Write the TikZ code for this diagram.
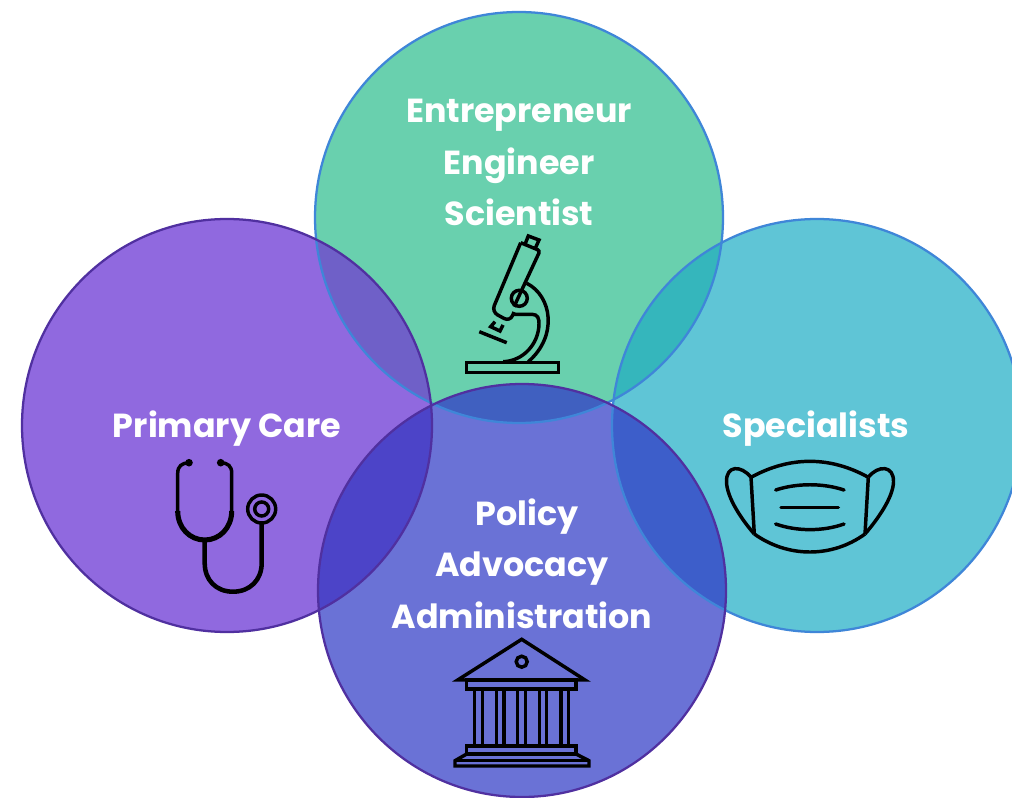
\documentclass[tikz,border=0pt]{standalone}
\usepackage{fontspec}
\setmainfont{Poppins}
\definecolor{cTop}{HTML}{69D0AE}
\definecolor{cLeft}{HTML}{9069DF}
\definecolor{cRight}{HTML}{5FC5D6}
\definecolor{cBot}{HTML}{6A72D6}
\definecolor{cTL}{HTML}{6F60C8}
\definecolor{cTR}{HTML}{35B6BC}
\definecolor{cLB}{HTML}{4C44C8}
\definecolor{cBR}{HTML}{3D5ECA}
\definecolor{cTB}{HTML}{4060C0}
\definecolor{edgeB}{HTML}{3F86D8}
\definecolor{edgeP}{HTML}{5030A0}
\tikzset{
  lab/.style={text=white,font=\bfseries\fontsize{25}{30}\selectfont,inner sep=0pt,anchor=base},
  ico/.style={draw=black,line width=2.6pt,line join=miter,fill=none},
  ringB/.style={draw=edgeB,line width=1.7pt},
  ringP/.style={draw=edgeP,line width=1.7pt},
  discT/.style={x radius=204,y radius=205.5},
  discL/.style={x radius=205,y radius=206.5},
  discR/.style={x radius=205,y radius=206.5},
  discB/.style={x radius=204,y radius=206.5},
}
\begin{document}
\begin{tikzpicture}[x=0.75pt,y=-0.75pt]
\useasboundingbox (0,0) rectangle (1012,798);
\clip (0,0) rectangle (1012,798);
\fill[white] (0,0) rectangle (1012,798);
% discs
\fill[cTop] (519,217.5) circle [discT];
\fill[cLeft] (227,425.5) circle [discL];
\fill[cRight] (817,425.5) circle [discR];
\fill[cBot] (522,590.5) circle [discB];
% overlaps
\begin{scope}\clip (519,217.5) circle [discT]; \fill[cTL] (227,425.5) circle [discL]; \end{scope}
\begin{scope}\clip (519,217.5) circle [discT]; \fill[cTR] (817,425.5) circle [discR]; \end{scope}
\begin{scope}\clip (522,590.5) circle [discB]; \fill[cLB] (227,425.5) circle [discL]; \end{scope}
\begin{scope}\clip (522,590.5) circle [discB]; \fill[cBR] (817,425.5) circle [discR]; \end{scope}
\begin{scope}\clip (522,590.5) circle [discB]; \fill[cTB] (519,217.5) circle [discT]; \end{scope}
% rims
\draw[ringB] (519,217.5) circle [discT];
\draw[ringB] (817,425.5) circle [discR];
\draw[ringP] (227,425.5) circle [discL];
\draw[ringP] (522,590.5) circle [discB];
% labels
\node[lab] (t1) at (519,122.7) {Entrepreneur};
\node[lab] (t2) at (519,174.3) {Engineer};
\node[lab] (t3) at (519,226) {Scientist};
\node[lab] (l1) at (227,437) {Primary Care};
\node[lab] (r1) at (816,437) {Specialists};
\node[lab] (b1) at (527,525.7) {Policy};
\node[lab] (b2) at (522,576.7) {Advocacy};
\node[lab] (b3) at (522,628.3) {Administration};
% microscope
\draw[ico,rounded corners=2pt] (520.7,242.7) -- (540,250.7) -- (514,306.7);
\draw[ico,rounded corners=5pt] (520.7,242.7) -- (491.7,311.7) -- (510,321.7) -- (514,312);
\draw[ico] (525,244.3) -- (528.3,236) -- (539,240) -- (535,249);
\draw[ico] (495,321.7) -- (490.7,326.7) -- (500,331) -- (503,325);
\draw[ico] (519.3,298.3) circle [radius=8];
\draw[ico] (479.3,331.7) -- (506.7,342.7);
\draw[ico] (526.7,283.3) .. controls (552,296) and (558,336) .. (528.3,361.7);
\draw[ico] (514,314.3) -- (532,314.3) .. controls (538,314.3) and (539,319) .. (539,323.3) .. controls (539,344) and (523,361) .. (503.3,361.7);
\draw[ico] (466.7,362.3) rectangle (558.3,372.3);
% stethoscope
\fill (189,462.7) circle [radius=3.8];
\fill (220.7,462.7) circle [radius=3.8];
\draw[ico] (189,462.7) .. controls (182,463) and (177.7,466) .. (177.7,473.3) -- (177.7,513.3);
\draw[ico] (220.7,462.7) .. controls (228,463) and (231.7,466) .. (231.7,473.3) -- (231.7,513.3);
\draw[ico,line width=3.8pt] (177.7,511) .. controls (177.7,528) and (190,540) .. (204.7,540) .. controls (219.5,540) and (231.7,528) .. (231.7,511);
\draw[ico,line width=3.4pt] (204.7,540) -- (204.7,563) .. controls (204.7,580) and (216,591.7) .. (233,591.7) .. controls (250,591.7) and (261.7,580) .. (261.7,563) -- (261.7,523);
\draw[ico] (261.7,509) circle [radius=14];
\draw[ico] (261.7,509) circle [radius=7];
% mask
\draw[ico,line join=round] (751,477.3) .. controls (790,456) and (830,456) .. (868.3,477.3);
\draw[ico,line join=round] (754.3,534) .. controls (788,558) and (832,558) .. (865,534);
\draw[ico] (751,477.3) -- (754.3,534);
\draw[ico] (868.3,477.3) -- (865,534);
\draw[ico,line join=round] (751,477.3) .. controls (741,465) and (726,465) .. (726.5,482) .. controls (727,498) and (742,520) .. (754.3,534);
\draw[ico,line join=round] (868.3,477.3) .. controls (878,465) and (894,465) .. (893.5,482) .. controls (893,498) and (877,520) .. (865,534);
\draw[ico,line cap=round] (775.7,490) .. controls (797,483) and (823,483) .. (844,490);
\draw[ico,line cap=round] (781,507.3) -- (838.3,507.3);
\draw[ico,line cap=round] (775.7,524) .. controls (797,531.5) and (823,531.5) .. (844,524);
% building
\draw[ico] (457.7,680) -- (521.7,639.3) -- (585,680) -- cycle;
\draw[ico] (521.7,661.7) circle [radius=5.5];
\draw[ico] (466.7,680) rectangle (576,689);
\foreach \xa in {474.3,482.3,496.7,504,517.7,525.3,539.3,546.7,561,568.3} \draw[ico] (\xa,689) -- (\xa,746);
\draw[ico] (466.7,746) rectangle (576,754);
\draw[ico] (466.7,754) -- (455,760.7) -- (455,766) -- (589,766) -- (589,760.7) -- (576,754);
\draw[ico] (455,760.7) -- (589,760.7);
\end{tikzpicture}
\end{document}
